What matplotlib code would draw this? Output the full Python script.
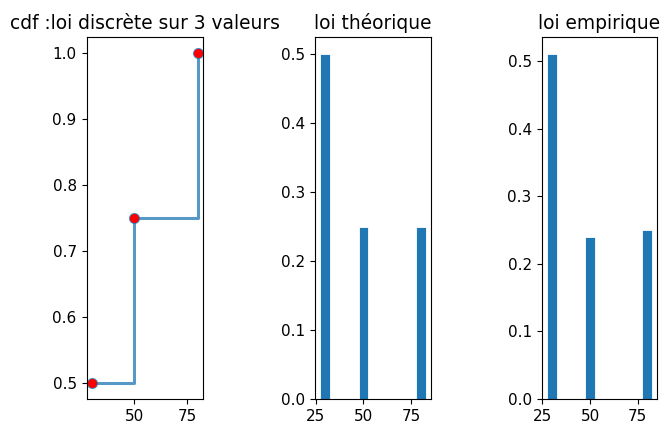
import numpy as np
import matplotlib.pyplot as plt

# discrete law on 3 values
valeurs = [30, 50, 80]
probas = [0.5, 0.25, 0.25]
cdf = [0.5, 0.75, 1.0]
freq_empiriques = [0.51, 0.24, 0.25]

plt.rcParams['xtick.labelsize'] = 11
plt.rcParams['ytick.labelsize'] = 11
plt.rcParams['axes.titlesize'] = 13.4
plt.rcParams['xtick.major.size'] = 3.9
plt.rcParams['ytick.major.size'] = 3.9

fig = plt.figure(figsize=(6.61, 4.26), dpi=100)
ax1 = fig.add_axes([0.1316, 0.0634, 0.1755, 0.8498])
ax2 = fig.add_axes([0.4766, 0.0634, 0.1755, 0.8498])
ax3 = fig.add_axes([0.8200, 0.0634, 0.1740, 0.8498])

# cdf as a step function
ax1.step(valeurs, cdf, where='post', marker='o', lw=2.2, ms=7, alpha=0.75)
ax1.plot(valeurs, cdf, 'o', color='red', ms=5.5)
ax1.set_title("cdf :loi discrète sur 3 valeurs")

ax2.bar(valeurs, probas, width=5, edgecolor='white', linewidth=0.6)
ax2.set_title("loi théorique")

ax3.bar(valeurs, freq_empiriques, width=5, edgecolor='white', linewidth=0.6)
ax3.set_title("loi empirique")

ax1.set_xticks([50, 75])
for ax in (ax2, ax3):
    ax.set_xticks([25, 50, 75])

plt.savefig("out.png", dpi=100)
